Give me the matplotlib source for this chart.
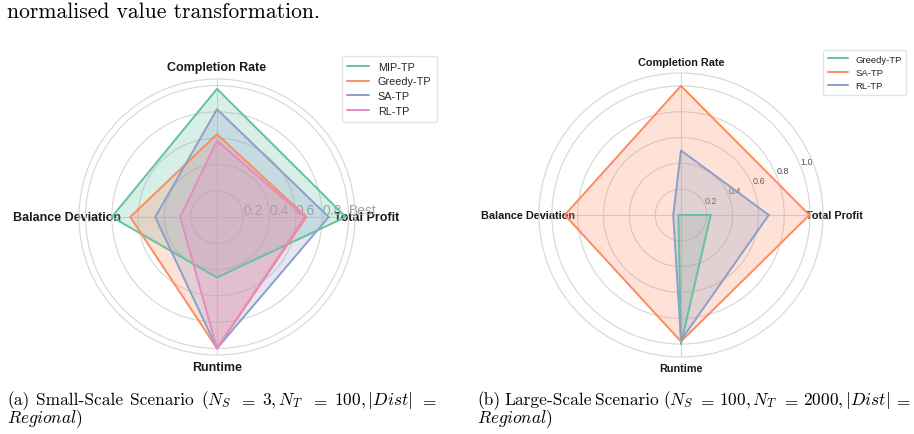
import numpy as np
import matplotlib.pyplot as plt
import seaborn as sns

sns.set_style('whitegrid')
plt.rcParams['font.family'] = ['Liberation Sans', 'DejaVu Sans']
plt.rcParams['mathtext.fontset'] = 'cm'

# axis order around the radar (counter-clockwise from the right)
categories = ['Total Profit', 'Completion Rate', 'Balance Deviation', 'Runtime']

# (a) small-scale scenario, normalised scores
small_methods = ['MIP-TP', 'Greedy-TP', 'SA-TP', 'RL-TP']
small_mip = [0.98, 0.975, 0.80, 0.46]
small_greedy = [0.68, 0.63, 0.66, 1.0]
small_sa = [0.85, 0.82, 0.47, 1.0]
small_rl = [0.67, 0.58, 0.28, 1.0]

# (b) large-scale scenario, normalised scores
large_methods = ['Greedy-TP', 'SA-TP', 'RL-TP']
large_greedy = [0.23, 0.0, 0.02, 1.0]
large_sa = [0.995, 1.0, 0.90, 0.98]
large_rl = [0.68, 0.50, 0.06, 0.97]

rticks = [0.2, 0.4, 0.6, 0.8, 1.0]
small_rlabels = ['0.2', '0.4', '0.6', '0.8', 'Best']
large_rlabels = ['0.2', '0.4', '0.6', '0.8', '1.0']

# caption words (first line is justified like the LaTeX page)
caption_a = ['(a)', 'Small-Scale', 'Scenario', r'$(N_S$', r'$=$',
             r'$3, N_T$', r'$=$', r'$100, |Dist|$', r'$=$']
caption_b = ['(b)', 'Large-Scale', 'Scenario', r'$(N_S$', r'$=$',
             r'$100, N_T$', r'$=$', r'$2000, |Dist|$', r'$=$']

palette = sns.color_palette('Set2')
angles = np.linspace(0, 2 * np.pi, len(categories), endpoint=False)
closed = np.concatenate([angles, angles[:1]])


def radar(ax, names, series, label_size, pad):
    for i, (name, vals) in enumerate(zip(names, series)):
        v = np.concatenate([vals, vals[:1]])
        ax.plot(closed, v, color=palette[i], lw=1.4, label=name)
        ax.fill(closed, v, color=palette[i], alpha=0.25)
    ax.set_xticks(angles)
    ax.set_xticklabels(categories, fontsize=label_size, fontweight='bold',
                       color='.1')
    ax.tick_params(axis='x', pad=pad)
    ax.grid(color='#d6d6d6', lw=0.8)
    ax.spines['polar'].set_color('#d6d6d6')
    ax.spines['polar'].set_linewidth(0.8)


fig = plt.figure(figsize=(9.14, 4.35), dpi=100)
W, H = 914.0, 435.0

# left radar
ax1 = fig.add_axes([0.0864, 0.1816, 0.302, 0.6345], projection='polar')
radar(ax1, small_methods, [small_mip, small_greedy, small_sa, small_rl], 9, -1.8)
ax1.set_ylim(0, 1.05)
ax1.set_rgrids(rticks, labels=small_rlabels, angle=0, fontsize=10,
               color='#a0a0a0')
for t in ax1.yaxis.get_ticklabels():
    t.set_ha('left')
    t.set_va('bottom')
ax1.legend(loc='upper left', bbox_to_anchor=(0.953, 1.083), fontsize=7.8,
           frameon=True, edgecolor='#dddddd', handlelength=2.0,
           borderpad=0.5, labelspacing=0.45, borderaxespad=0)

# right radar
ax2 = fig.add_axes([0.5897, 0.177, 0.3107, 0.6529], projection='polar')
radar(ax2, large_methods, [large_greedy, large_sa, large_rl], 7.8, -2.5)
ax2.set_ylim(0, 1.1)
ax2.set_rgrids(rticks, labels=large_rlabels, fontsize=6.5, color='.3')
ax2.legend(loc='upper left', bbox_to_anchor=(1.0, 1.081), fontsize=6.8,
           frameon=True, edgecolor='#dddddd', handlelength=2.1,
           borderpad=0.5, labelspacing=0.45, borderaxespad=0)

# surrounding page text
serif = dict(family='cmr10', color='black', fontsize=12.5, va='baseline')
fig.text(7 / W, 1 - 18.5 / H, 'normalised value transformation.',
         family='cmr10', color='black', fontsize=15.5, va='baseline')

renderer = fig.canvas.get_renderer()


def justified(words, x0, x1, y_top):
    # spread the words evenly between x0 and x1 (pixels)
    items = [fig.text(0, 1 - y_top / H, w, **serif) for w in words]
    widths = [t.get_window_extent(renderer).width for t in items]
    gap = (x1 - x0 - sum(widths)) / (len(words) - 1)
    x = x0
    for t, w in zip(items, widths):
        t.set_x(x / W)
        x += w + gap


justified(caption_a, 7, 437, 405)
justified(caption_b, 477, 911, 405)
fig.text(7 / W, 1 - 423 / H, r'$Regional)$', **serif)
fig.text(477 / W, 1 - 423 / H, r'$Regional)$', **serif)

fig.savefig('out.png', dpi=100)
